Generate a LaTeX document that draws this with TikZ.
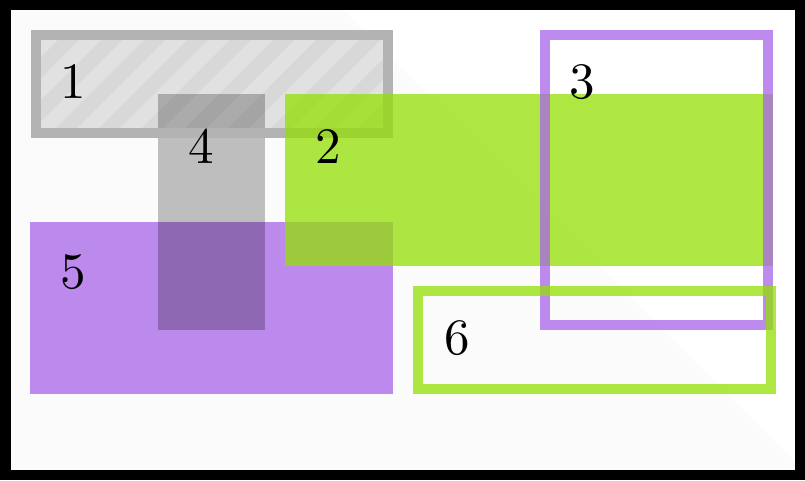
\documentclass[tikz,border=0pt]{standalone}
\definecolor{offwhite}{RGB}{251,251,251}
\definecolor{hatchlight}{RGB}{225,225,225}
\definecolor{hatchdark}{RGB}{216,216,216}
\definecolor{boxgray}{RGB}{179,179,179}
\definecolor{limegreen}{RGB}{147,224,2}
\definecolor{lilac}{RGB}{168,100,232}
\font\numfont=cmr10 at 51pt
\tikzset{
  greenfill/.style={fill=limegreen, fill opacity=0.75},
  purplefill/.style={fill=lilac, fill opacity=0.75},
  greyfill/.style={fill=black, fill opacity=0.24},
  greenframe/.style={draw=limegreen, draw opacity=0.75, line width=10pt},
  purpleframe/.style={draw=lilac, draw opacity=0.75, line width=10pt},
  greyframe/.style={draw=boxgray, line width=10pt},
  numlabel/.style={inner sep=0pt, font=\numfont, text=black}
}
\begin{document}
\begin{tikzpicture}[x=1pt, y=-1pt]
\useasboundingbox (0,0) rectangle (805,480);
% background
\fill[white] (0,0) rectangle (805,480);
\fill[offwhite] (10,10) -- (343,10) -- (803,470) -- (10,470) -- cycle;
% box 1: hatched fill
\fill[hatchlight] (36,35) rectangle (387.5,132.5);
\begin{scope}
  \clip (36,35) rectangle (387.5,132.5);
  \foreach \c in {12,55,...,530} {
    \fill[hatchdark] (\c-30,30) -- (\c-9,30) -- (\c-119,140) -- (\c-140,140) -- cycle;
  }
\end{scope}
% box 5: purple fill
\fill[purplefill] (30,222) rectangle (393,394);
% box 4: grey translucent
\fill[greyfill] (158,94) rectangle (265,330);
% box 1 frame
\draw[greyframe] (36,35) rectangle (387.5,132.5);
% box 2: green fill
\fill[greenfill] (285,94) rectangle (773,266);
% box 3: purple frame
\draw[purpleframe] (545,35) rectangle (768,325);
% box 6: green frame
\draw[greenframe] (418,291) rectangle (771,389);
% outer black frame
\draw[line width=10.5pt, black] (5.5,5.2) rectangle (800.3,475);
% labels
\node[numlabel] (l1) at (73.5,82.5) {1};
\node[numlabel] (l2) at (328,147) {2};
\node[numlabel] (l3) at (582.5,82) {3};
\node[numlabel] (l4) at (201,147) {4};
\node[numlabel] (l5) at (73,272) {5};
\node[numlabel] (l6) at (457,338) {6};
\end{tikzpicture}
\end{document}
